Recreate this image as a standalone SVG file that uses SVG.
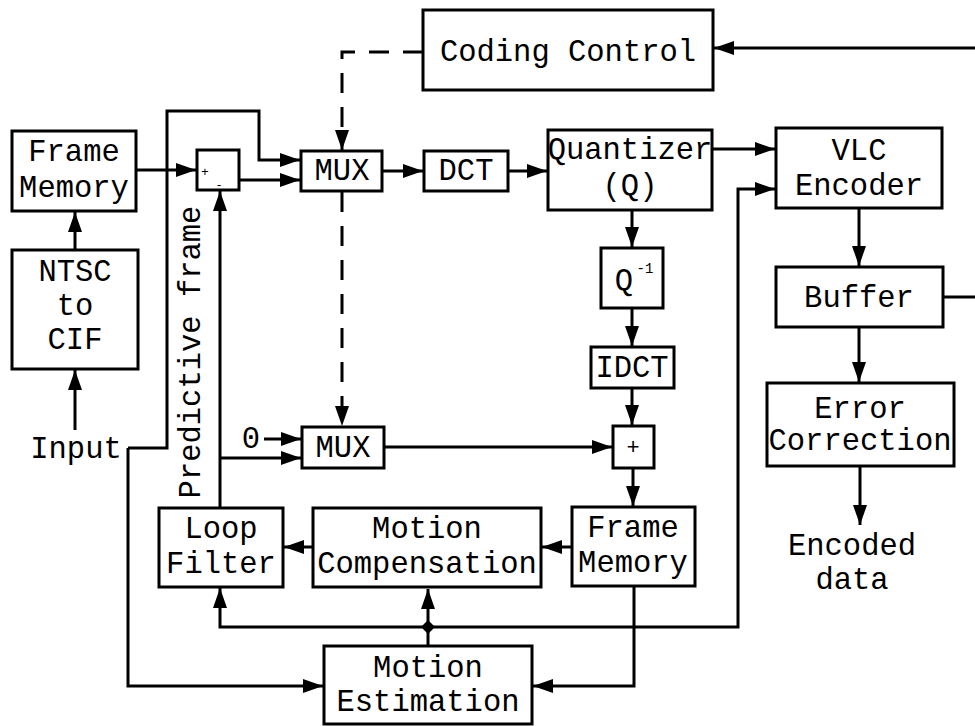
<svg xmlns="http://www.w3.org/2000/svg" width="975" height="726" viewBox="0 0 975 726">
  <defs>
    <marker id="arrow" viewBox="0 0 20 14" refX="20" refY="7" markerWidth="20" markerHeight="14" markerUnits="userSpaceOnUse" orient="auto">
      <path d="M0,0 L20,7 L0,14 z" fill="#000"/>
    </marker>
  </defs>
  <style>
    .box{fill:#fff;stroke:#000;stroke-width:3}
    .lbl{font-family:'Liberation Mono','Courier New',monospace;font-size:30.5px;fill:#000;text-anchor:middle}
    .wire{fill:none;stroke:#000;stroke-width:3}
    .arr{marker-end:url(#arrow)}
    .dash{stroke-dasharray:20 14}
  </style>
  <rect width="975" height="726" fill="#fff"/>

  <!-- connectors -->
  <g id="connectors">
    <path class="wire arr" d="M975,48 H714"/>
    <path class="wire dash arr" d="M423,52 H342 V150"/>
    <path class="wire dash arr" d="M342,192 V426"/>
    <path class="wire arr" d="M137,170 H196"/>
    <path class="wire arr" d="M240,180 H300"/>
    <path class="wire arr" d="M128,448 H167 V111 H259 V160 H300"/>
    <path class="wire arr" d="M128,448 V686 H323"/>
    <path class="wire arr" d="M383,171 H423"/>
    <path class="wire arr" d="M509,171 H547"/>
    <path class="wire arr" d="M713,149 H775"/>
    <path class="wire arr" d="M859,209 V266"/>
    <path class="wire" d="M944,297 H975"/>
    <path class="wire arr" d="M859,328 V382"/>
    <path class="wire arr" d="M860,467 V525"/>
    <path class="wire arr" d="M632,211 V247"/>
    <path class="wire arr" d="M632,309 V346"/>
    <path class="wire arr" d="M632,389 V425"/>
    <path class="wire arr" d="M385,447 H612"/>
    <path class="wire arr" d="M633,469 V506"/>
    <path class="wire arr" d="M571,547 H542"/>
    <path class="wire arr" d="M312,547 H284"/>
    <path class="wire arr" d="M220,507 V191"/>
    <path class="wire arr" d="M220,458 H301"/>
    <path class="wire arr" d="M264,439 H301"/>
    <path class="wire arr" d="M634,587 V686 H533"/>
    <path class="wire arr" d="M428,645 V589"/>
    <path class="wire arr" d="M428,627 H220 V588"/>
    <path class="wire arr" d="M428,627 H738 V189 H775"/>
    <path class="wire arr" d="M75,249 V212"/>
    <path class="wire arr" d="M75,430 V370"/>
    <polygon points="428,620 435,627 428,634 421,627" fill="#000"/>
  </g>

  <g id="coding-control">
    <rect class="box" x="423" y="10" width="290" height="80"/>
    <text class="lbl" x="568" y="61">Coding Control</text>
  </g>
  <g id="frame-memory-in">
    <rect class="box" x="12" y="131" width="124" height="80"/>
    <text class="lbl" x="74" y="161">Frame</text>
    <text class="lbl" x="74" y="197">Memory</text>
  </g>
  <g id="ntsc-to-cif">
    <rect class="box" x="12" y="250" width="126" height="119"/>
    <text class="lbl" x="75" y="281">NTSC</text>
    <text class="lbl" x="75" y="315">to</text>
    <text class="lbl" x="75" y="349">CIF</text>
  </g>
  <g id="input">
    <text class="lbl" x="76" y="458">Input</text>
  </g>
  <g id="subtractor">
    <rect class="box" x="197" y="150" width="42" height="40"/>
    <text class="lbl" x="205" y="176" style="font-size:13px">+</text>
    <text class="lbl" x="219" y="189" style="font-size:12px">-</text>
  </g>
  <g id="mux-top">
    <rect class="box" x="301" y="151" width="81" height="40"/>
    <text class="lbl" x="342" y="180">MUX</text>
  </g>
  <g id="dct">
    <rect class="box" x="424" y="151" width="84" height="40"/>
    <text class="lbl" x="466" y="180">DCT</text>
  </g>
  <g id="quantizer">
    <rect class="box" x="548" y="130" width="164" height="80"/>
    <text class="lbl" x="630" y="159">Quantizer</text>
    <text class="lbl" x="630" y="195">(Q)</text>
  </g>
  <g id="vlc-encoder">
    <rect class="box" x="776" y="128" width="166" height="80"/>
    <text class="lbl" x="859" y="160">VLC</text>
    <text class="lbl" x="859" y="195">Encoder</text>
  </g>
  <g id="buffer">
    <rect class="box" x="776" y="267" width="167" height="60"/>
    <text class="lbl" x="859" y="307">Buffer</text>
  </g>
  <g id="error-correction">
    <rect class="box" x="767" y="383" width="187" height="83"/>
    <text class="lbl" x="860" y="418">Error</text>
    <text class="lbl" x="860" y="450">Correction</text>
  </g>
  <g id="encoded-data">
    <text class="lbl" x="852" y="555">Encoded</text>
    <text class="lbl" x="852" y="589">data</text>
  </g>
  <g id="inverse-quantizer">
    <rect class="box" x="601" y="248" width="62" height="60"/>
    <text class="lbl" x="624" y="290">Q</text>
    <text class="lbl" x="645" y="273" style="font-size:14px">-1</text>
  </g>
  <g id="idct">
    <rect class="box" x="591" y="347" width="83" height="41"/>
    <text class="lbl" x="632" y="377">IDCT</text>
  </g>
  <g id="adder">
    <rect class="box" x="613" y="426" width="41" height="42"/>
    <text class="lbl" x="633" y="454" style="font-size:22px">+</text>
  </g>
  <g id="mux-bottom">
    <rect class="box" x="302" y="427" width="82" height="41"/>
    <text class="lbl" x="343" y="457">MUX</text>
  </g>
  <g id="zero">
    <text class="lbl" x="251" y="448">0</text>
  </g>
  <g id="predictive-frame">
    <text class="lbl" transform="translate(200,352) rotate(-90)">Predictive frame</text>
  </g>
  <g id="loop-filter">
    <rect class="box" x="159" y="508" width="124" height="79"/>
    <text class="lbl" x="221" y="538">Loop</text>
    <text class="lbl" x="221" y="573">Filter</text>
  </g>
  <g id="motion-compensation">
    <rect class="box" x="313" y="508" width="228" height="79"/>
    <text class="lbl" x="427" y="538">Motion</text>
    <text class="lbl" x="427" y="573">Compensation</text>
  </g>
  <g id="frame-memory-loop">
    <rect class="box" x="572" y="507" width="123" height="79"/>
    <text class="lbl" x="633" y="537">Frame</text>
    <text class="lbl" x="633" y="572">Memory</text>
  </g>
  <g id="motion-estimation">
    <rect class="box" x="324" y="646" width="208" height="78"/>
    <text class="lbl" x="428" y="677">Motion</text>
    <text class="lbl" x="428" y="711">Estimation</text>
  </g>
</svg>
